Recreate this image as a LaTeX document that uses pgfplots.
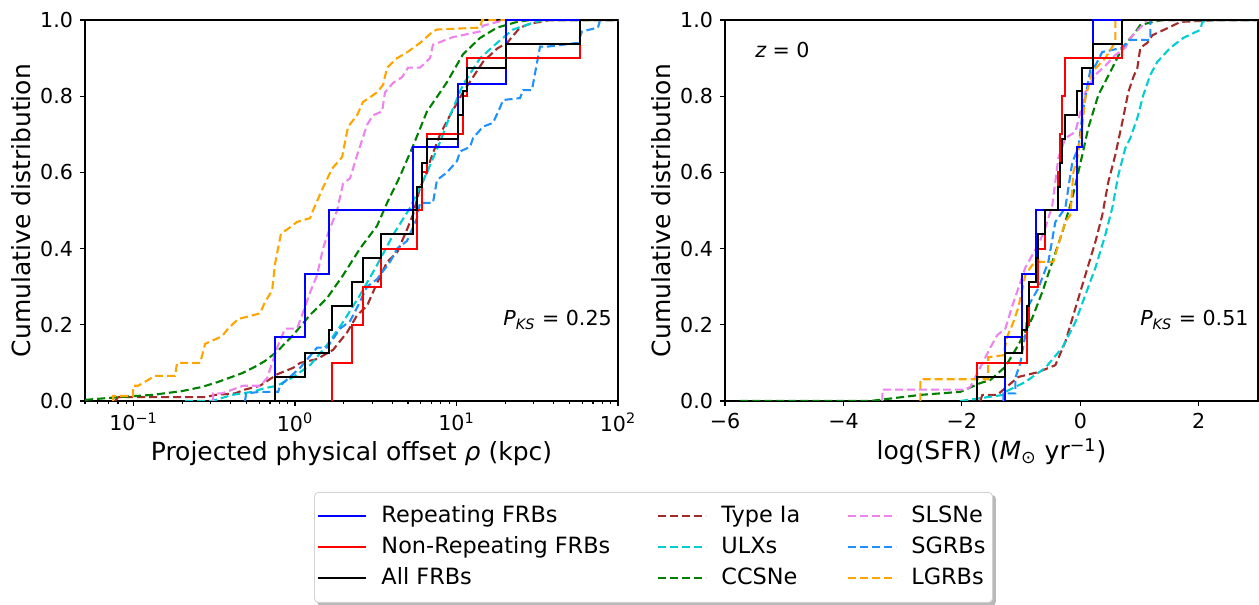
\documentclass[border=0pt]{standalone}
\usepackage{fontspec}
\setmainfont{DejaVu Sans}
\usepackage{pgfplots}
\pgfplotsset{compat=1.18}
\usetikzlibrary{backgrounds}
\definecolor{mplbrown}{RGB}{165,42,42}
\definecolor{mplturq}{RGB}{0,206,209}
\definecolor{mplgreen}{RGB}{0,128,0}
\definecolor{mplviolet}{RGB}{238,130,238}
\definecolor{mpldodger}{RGB}{30,144,255}
\definecolor{mplorange}{RGB}{255,165,0}
\definecolor{mplblue}{RGB}{0,0,255}
\definecolor{mplred}{RGB}{255,0,0}
\pgfplotsset{
  panel/.style={scale only axis, width=266.5pt, height=190.5pt,
    ymin=0, ymax=1, ytick={0,0.2,0.4,0.6,0.8,1},
    yticklabels={0.0,0.2,0.4,0.6,0.8,1.0},
    tick align=outside, xtick pos=bottom, ytick pos=left,
    major tick length=2.5pt, minor tick length=1.5pt,
    every tick/.style={black, line width=0.6pt},
    axis line style={line width=0.6pt},
    ticklabel style={font=\fontsize{10.3}{12}\selectfont},
    label style={font=\fontsize{12.5}{15}\selectfont},
    xlabel style={yshift=2pt},
    ylabel style={yshift=-2pt},
    ylabel={Cumulative distribution}},
  dsh/.style={line width=1.05pt, dash pattern=on 4pt off 2pt},
  sol/.style={line width=1pt, const plot},
}
\begin{document}
\begin{tikzpicture}
\useasboundingbox (0,0) rectangle (629.5pt,302.5pt);
% ---------------- left panel ----------------
\begin{axis}[panel, at={(42.5pt,102pt)}, anchor=south west,
  xmin=-1.30103, xmax=2, xtick={-1,0,1,2},
  xticklabels={10\textsuperscript{−1},10\textsuperscript{0},10\textsuperscript{1},10\textsuperscript{2}},
  minor xtick={-1.30103,-1.22185,-1.15490,-1.09691,-1.04576,-0.69897,-0.52288,-0.39794,-0.30103,-0.22185,-0.15490,-0.09691,-0.04576,0.30103,0.47712,0.60206,0.69897,0.77815,0.84510,0.90309,0.95424,1.30103,1.47712,1.60206,1.69897,1.77815,1.84510,1.90309,1.95424},
  xlabel={Projected physical offset {\itshape ρ} (kpc)},
  legend columns=3,
  legend cell align=left,
  legend image code/.code={\draw[#1] (0pt,0pt) -- (24pt,0pt); \path[draw=none] (0pt,0pt) -- (29.5pt,0pt);},
  legend style={name=leg, at={(1.0666,-0.2388)}, anchor=north,
    font=\fontsize{11.2}{13}\selectfont, draw=gray!35, rounded corners=2pt,
    fill=white,
    nodes={text height=8.6pt, text depth=2.4pt, inner ysep=2pt},
    /tikz/every even column/.append style={column sep=21.5pt},
    /tikz/row sep=0.5pt, inner xsep=1.5pt, inner ysep=4.5pt},
]
\addlegendimage{mplblue, line width=1pt}\addlegendentry{Repeating FRBs}
\addlegendimage{mplbrown, dsh}\addlegendentry{Type Ia}
\addlegendimage{mplviolet, dsh}\addlegendentry{SLSNe}
\addlegendimage{mplred, line width=1pt}\addlegendentry{Non-Repeating FRBs}
\addlegendimage{mplturq, dsh}\addlegendentry{ULXs}
\addlegendimage{mpldodger, dsh}\addlegendentry{SGRBs}
\addlegendimage{black, line width=1pt}\addlegendentry{All FRBs}
\addlegendimage{mplgreen, dsh}\addlegendentry{CCSNe}
\addlegendimage{mplorange, dsh}\addlegendentry{LGRBs}
% Type Ia
\addplot[mplbrown, dsh, forget plot] coordinates {(-1.115,0)(-1.096,0.01)(-0.557,0.01)(-0.495,0.016)(-0.372,0.02)(-0.310,0.03)(-0.217,0.04)(-0.111,0.07)(-0.012,0.087)(0.031,0.10)(0.136,0.11)(0.235,0.134)(0.322,0.18)(0.384,0.225)(0.446,0.25)(0.508,0.31)(0.570,0.365)(0.632,0.39)(0.693,0.45)(0.731,0.49)(0.774,0.56)(0.817,0.60)(0.836,0.63)(0.898,0.70)(0.960,0.75)(1.040,0.81)(1.102,0.85)(1.164,0.89)(1.251,0.925)(1.313,0.94)(1.393,0.98)(1.455,0.99)(1.579,1.0)(2,1.0)};
% ULXs
\addplot[mplturq, dsh, forget plot] coordinates {(-0.681,0)(-0.514,0.0)(-0.390,0.016)(-0.266,0.024)(-0.186,0.034)(-0.111,0.04)(-0.012,0.063)(0.093,0.094)(0.198,0.147)(0.297,0.207)(0.402,0.278)(0.508,0.357)(0.607,0.436)(0.712,0.507)(0.817,0.60)(0.898,0.68)(0.960,0.75)(1.040,0.83)(1.146,0.90)(1.251,0.94)(1.350,0.975)(1.455,0.99)(1.536,1.0)(2,1.0)};
% CCSNe
\addplot[mplgreen, dsh, forget plot] coordinates {(-1.300,0.003)(-1.096,0.01)(-0.885,0.016)(-0.700,0.026)(-0.576,0.037)(-0.477,0.05)(-0.328,0.073)(-0.248,0.09)(-0.186,0.105)(-0.111,0.13)(-0.012,0.173)(0.093,0.226)(0.198,0.27)(0.297,0.33)(0.402,0.40)(0.508,0.46)(0.570,0.52)(0.650,0.59)(0.731,0.67)(0.817,0.76)(0.898,0.81)(0.941,0.837)(1.040,0.91)(1.146,0.953)(1.251,0.98)(1.375,0.995)(1.455,1.0)(2,1.0)};
% SLSNe
\addplot[mplviolet, dsh, forget plot] coordinates {(-0.508,0)(-0.508,0.02)(-0.452,0.02)(-0.322,0.04)(-0.217,0.04)(-0.173,0.06)(-0.111,0.14)(-0.062,0.19)(0.012,0.19)(0.043,0.225)(0.093,0.285)(0.136,0.33)(0.173,0.40)(0.204,0.44)(0.260,0.50)(0.297,0.57)(0.341,0.585)(0.384,0.645)(0.446,0.725)(0.483,0.75)(0.539,0.76)(0.557,0.81)(0.607,0.835)(0.663,0.85)(0.700,0.875)(0.774,0.875)(0.836,0.90)(0.854,0.935)(0.978,0.955)(1.146,0.97)(1.164,0.985)(1.300,1.0)(2,1.0)};
% SGRBs
\addplot[mpldodger, dsh, forget plot] coordinates {(-0.310,0)(-0.303,0.02)(-0.217,0.024)(-0.105,0.024)(-0.093,0.04)(0.031,0.087)(0.136,0.14)(0.198,0.14)(0.279,0.19)(0.341,0.21)(0.384,0.245)(0.446,0.30)(0.508,0.32)(0.588,0.365)(0.632,0.40)(0.693,0.42)(0.755,0.48)(0.774,0.52)(0.854,0.52)(0.879,0.58)(0.941,0.60)(1.003,0.63)(1.022,0.655)(1.084,0.667)(1.102,0.69)(1.164,0.72)(1.226,0.73)(1.269,0.77)(1.288,0.79)(1.393,0.795)(1.412,0.816)(1.467,0.816)(1.486,0.86)(1.517,0.93)(1.560,0.93)(1.752,0.94)(1.777,0.97)(1.876,0.98)(1.889,1.0)(2,1.0)};
% LGRBs
\addplot[mplorange, dsh, forget plot] coordinates {(-1.127,0)(-1.127,0.013)(-1.003,0.013)(-1.003,0.04)(-0.972,0.04)(-0.867,0.066)(-0.743,0.066)(-0.731,0.10)(-0.588,0.10)(-0.557,0.15)(-0.452,0.17)(-0.415,0.19)(-0.353,0.215)(-0.217,0.23)(-0.186,0.26)(-0.142,0.29)(-0.124,0.36)(-0.087,0.44)(-0.050,0.45)(0.012,0.47)(0.093,0.48)(0.111,0.50)(0.173,0.56)(0.229,0.61)(0.291,0.64)(0.328,0.72)(0.384,0.75)(0.421,0.785)(0.508,0.81)(0.545,0.83)(0.570,0.875)(0.632,0.90)(0.693,0.915)(0.774,0.94)(0.854,0.97)(0.879,0.975)(1.146,0.98)(1.158,1.0)(2,1.0)};
% FRBs
\addplot[mplblue, sol, forget plot] coordinates {(-0.124,0)(-0.124,0.1667)(0.062,0.3333)(0.211,0.5)(0.731,0.6667)(1.009,0.8333)(1.307,1.0)(2,1.0)};
\addplot[mplred, sol, forget plot] coordinates {(0.229,0)(0.229,0.1)(0.353,0.2)(0.421,0.3)(0.533,0.4)(0.755,0.5)(0.786,0.6)(0.817,0.7)(1.040,0.8)(1.065,0.9)(1.765,1.0)(2,1.0)};
\addplot[black, sol, forget plot] coordinates {(-0.124,0)(-0.124,0.0625)(0.062,0.125)(0.211,0.1875)(0.229,0.25)(0.353,0.3125)(0.421,0.375)(0.533,0.4375)(0.731,0.5)(0.755,0.5625)(0.786,0.625)(0.817,0.6875)(1.009,0.75)(1.040,0.8125)(1.065,0.875)(1.307,0.9375)(1.765,1.0)(2,1.0)};
\node[anchor=east, inner sep=0pt, font=\fontsize{10.3}{12}\selectfont] at (rel axis cs:0.989,0.213) {{\itshape P}\textsubscript{\itshape KS} = 0.25};
\end{axis}
% ---------------- right panel ----------------
\begin{axis}[panel, at={(362.5pt,102pt)}, anchor=south west,
  xmin=-6, xmax=3, xtick={-6,-4,-2,0,2}, xticklabels={−6,−4,−2,0,2},
  xlabel={log(SFR) ({\itshape M}\textsubscript{⊙} yr\textsuperscript{−1})},
]
% Type Ia
\addplot[mplbrown, dsh] coordinates {(-1.689,0)(-1.655,0.016)(-1.402,0.016)(-1.266,0.034)(-1.047,0.063)(-0.709,0.076)(-0.422,0.094)(-0.253,0.155)(-0.084,0.243)(0.084,0.33)(0.253,0.417)(0.371,0.488)(0.473,0.575)(0.591,0.646)(0.709,0.732)(0.811,0.811)(0.895,0.85)(0.963,0.874)(1.013,0.927)(1.131,0.94)(1.216,0.96)(1.520,0.982)(1.689,0.995)(2.364,1.0)(3,1.0)};
% ULXs
\addplot[mplturq, dsh] coordinates {(-2.026,0)(-1.300,0.016)(-1.266,0.024)(-0.929,0.05)(-0.591,0.087)(-0.304,0.14)(-0.084,0.207)(0.084,0.278)(0.253,0.349)(0.422,0.436)(0.540,0.507)(0.642,0.593)(0.760,0.664)(0.844,0.69)(0.963,0.743)(1.064,0.803)(1.182,0.856)(1.300,0.89)(1.520,0.927)(1.739,0.953)(2.026,0.974)(2.060,0.995)(2.195,1.0)(3,1.0)};
% CCSNe
\addplot[mplgreen, dsh] coordinates {(-5.741,0)(-3.546,0.0)(-2.702,0.016)(-2.026,0.024)(-1.689,0.047)(-1.520,0.055)(-1.266,0.09)(-1.047,0.147)(-0.811,0.218)(-0.642,0.286)(-0.473,0.365)(-0.304,0.443)(-0.135,0.533)(0.034,0.646)(0.135,0.717)(0.304,0.803)(0.540,0.874)(0.709,0.927)(0.929,0.968)(1.013,0.987)(1.233,0.995)(1.402,1.0)(3,1.0)};
% SLSNe
\addplot[mplviolet, dsh] coordinates {(-3.343,0)(-3.343,0.03)(-1.942,0.03)(-1.857,0.037)(-1.520,0.14)(-1.402,0.173)(-1.266,0.19)(-1.148,0.25)(-1.047,0.296)(-0.929,0.35)(-0.811,0.383)(-0.709,0.41)(-0.591,0.454)(-0.473,0.514)(-0.371,0.638)(-0.253,0.69)(-0.084,0.706)(0.084,0.81)(0.253,0.856)(0.422,0.88)(0.591,0.908)(0.760,0.927)(0.844,0.953)(1.013,0.98)(1.131,1.0)(3,1.0)};
% SGRBs
\addplot[mpldodger, dsh] coordinates {(-1.300,0)(-1.300,0.02)(-1.098,0.02)(-1.098,0.06)(-1.013,0.1)(-0.929,0.173)(-0.878,0.25)(-0.709,0.296)(-0.540,0.365)(-0.422,0.47)(-0.253,0.507)(-0.135,0.627)(-0.034,0.664)(0.034,0.75)(0.084,0.795)(0.169,0.869)(0.253,0.88)(0.371,0.916)(0.709,0.927)(0.844,0.948)(1.182,0.948)(1.182,1.0)(3,1.0)};
% LGRBs
\addplot[mplorange, dsh] coordinates {(-2.702,0)(-2.702,0.057)(-1.554,0.057)(-1.554,0.115)(-1.300,0.12)(-1.233,0.17)(-1.148,0.2)(-1.047,0.245)(-0.929,0.33)(-0.811,0.357)(-0.709,0.365)(-0.456,0.365)(-0.371,0.41)(-0.253,0.47)(-0.169,0.488)(-0.118,0.6)(-0.051,0.638)(0.034,0.725)(0.084,0.795)(0.203,0.864)(0.422,0.90)(0.591,0.943)(0.591,1.0)(3,1.0)};
% FRBs
\addplot[mplblue, sol] coordinates {(-1.266,0)(-1.266,0.1667)(-0.979,0.3333)(-0.743,0.5)(-0.051,0.6667)(0.034,0.8333)(0.220,1.0)(3,1.0)};
\addplot[mplred, sol] coordinates {(-1.739,0)(-1.739,0.1)(-0.895,0.2)(-0.861,0.3)(-0.709,0.4)(-0.591,0.5)(-0.371,0.6)(-0.338,0.7)(-0.304,0.8)(-0.253,0.9)(0.709,1.0)(3,1.0)};
\addplot[black, sol] coordinates {(-1.739,0)(-1.739,0.0625)(-1.266,0.125)(-0.979,0.1875)(-0.895,0.25)(-0.861,0.3125)(-0.743,0.375)(-0.709,0.4375)(-0.591,0.5)(-0.371,0.5625)(-0.338,0.625)(-0.304,0.6875)(-0.253,0.75)(-0.051,0.8125)(0.034,0.875)(0.220,0.9375)(0.709,1.0)(3,1.0)};
\node[anchor=east, inner sep=0pt, font=\fontsize{10.3}{12}\selectfont] at (rel axis cs:0.983,0.213) {{\itshape P}\textsubscript{\itshape KS} = 0.51};
\node[anchor=west, inner sep=0pt, font=\fontsize{10.3}{12}\selectfont] at (rel axis cs:0.056,0.921) {{\itshape z} = 0};
\end{axis}
\begin{scope}[on background layer]
\fill[gray!55, rounded corners=2pt] ([xshift=1.5pt,yshift=-1.5pt]leg.south west) rectangle ([xshift=1.5pt,yshift=-1.5pt]leg.north east);
\end{scope}
\end{tikzpicture}
\end{document}
